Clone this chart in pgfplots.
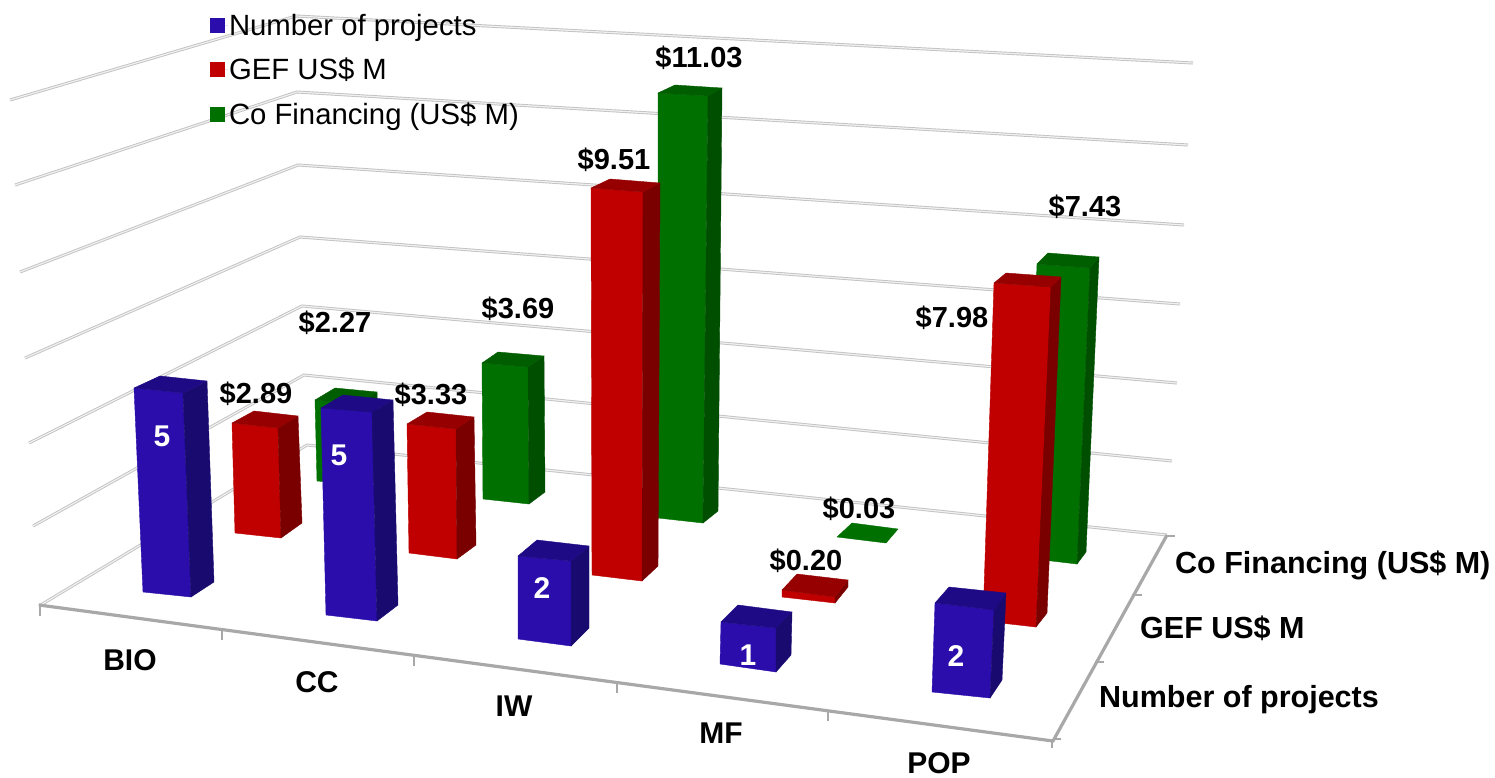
\documentclass[border=0pt]{standalone}
\usepackage{pgfplots}
\pgfplotsset{compat=1.18}
\usepackage{fontspec}
\setmainfont{Liberation Sans}
\definecolor{bF}{HTML}{2A0DAB}\definecolor{bS}{HTML}{190A70}\definecolor{bT}{HTML}{1F0A85}
\definecolor{rF}{HTML}{C00000}\definecolor{rS}{HTML}{7A0000}\definecolor{rT}{HTML}{960000}
\definecolor{gF}{HTML}{007000}\definecolor{gS}{HTML}{004F00}\definecolor{gT}{HTML}{005E00}
\definecolor{axg}{HTML}{A8A8A8}
% one visible face of a bar, corners in picture coordinates
\newcommand{\face}[2]{\addplot[forget plot,fill=#1,draw=#1,line width=0.4pt] coordinates {#2} --cycle;}
\newcommand{\prism}[4]{\face{#1F}{#2}\face{#1S}{#3}\face{#1T}{#4}}
\newcommand{\grid}[1]{\addplot[forget plot,draw=black!24,line width=3pt,line join=miter] coordinates {#1};
 \addplot[forget plot,draw=black!6,line width=1.2pt,line join=miter] coordinates {#1};}
\newcommand{\lab}[3]{\node[font=\fontsize{29}{32}\selectfont\bfseries,text=black,anchor=center,inner sep=0pt] at (axis cs:#1,#2) {#3};}
\newcommand{\clab}[3]{\node[font=\fontsize{30}{32}\selectfont\bfseries,text=black,anchor=center,inner sep=0pt] at (axis cs:#1,#2) {#3};}
\newcommand{\wlab}[3]{\node[font=\fontsize{30}{32}\selectfont\bfseries,text=white,anchor=center,inner sep=0pt] at (axis cs:#1,#2) {#3};}
\newcommand{\llab}[3]{\node[font=\fontsize{30.5}{32}\selectfont\bfseries,text=black,anchor=west,inner sep=0pt] at (axis cs:#1,#2) {#3};}
\begin{document}
\begin{tikzpicture}
\path[use as bounding box] (0,0) rectangle (1495pt,777pt);
\begin{axis}[
  at={(0,0)},anchor=south west,
  scale only axis,width=1495pt,height=777pt,
  xmin=0,xmax=1495,ymin=0,ymax=777,y dir=reverse,
  hide axis,clip=false,no markers,
  legend style={at={(axis cs:210,13)},anchor=north west,draw=none,fill=none,
    inner sep=0pt,outer sep=0pt,font=\fontsize{29.3}{32}\selectfont,
    row sep=19.5pt,nodes={inner sep=1pt,anchor=west}},
  legend cell align=left,
  legend image code/.code={\fill[#1] (0pt,-7.5pt) rectangle (15pt,7.5pt);\path (0pt,0pt) -- (18pt,0pt);},
]
\addlegendimage{fill=bF,draw=none}\addlegendentry{Number of projects}
\addlegendimage{fill=rF,draw=none}\addlegendentry{GEF US\$ M}
\addlegendimage{fill=gF,draw=none}\addlegendentry{Co Financing (US\$ M)}
% walls and floor grid
\grid{(10,100)(296,16)(1193,63)}
\grid{(15,185)(297,92)(1188,145)}
\grid{(20,272)(298,165)(1184,225)}
\grid{(25,358)(300,237)(1180,304)}
\grid{(29,443)(302,306)(1177,383)}
\grid{(33,526)(304,375)(1172,461)}
\grid{(39,606)(307,445)(1167,535)}
% axes
\addplot[forget plot,draw=axg,line width=3.2pt] coordinates {(39,605)(1053,741)(1167,535)};
\addplot[forget plot,draw=axg,line width=1.4pt] coordinates {(40,606)(40,616)};
\addplot[forget plot,draw=axg,line width=1.4pt] coordinates {(222,630)(222,640)};
\addplot[forget plot,draw=axg,line width=1.4pt] coordinates {(414,656)(414,666)};
\addplot[forget plot,draw=axg,line width=1.4pt] coordinates {(617,683)(617,693)};
\addplot[forget plot,draw=axg,line width=1.4pt] coordinates {(828,711)(828,721)};
\addplot[forget plot,draw=axg,line width=1.4pt] coordinates {(1052,741)(1052,748)};
\addplot[forget plot,draw=axg,line width=1.4pt] coordinates {(1053,739)(1061,739)};
\addplot[forget plot,draw=axg,line width=1.4pt] coordinates {(1095,662)(1104,662)};
\addplot[forget plot,draw=axg,line width=1.4pt] coordinates {(1132,595)(1142,595)};
\addplot[forget plot,draw=axg,line width=1.4pt] coordinates {(1167,536)(1175,536)};
% Co Financing row
\prism{g}{(315,400)(360,404)(363,485)(317,481)}{(360,404)(377,392)(380,475)(363,485)}{(315,400)(335,388)(377,392)(360,404)}
\prism{g}{(482,363)(528,367)(529,504)(483,499)}{(528,367)(544,356)(545,492)(529,504)}{(482,363)(498,352)(544,356)(528,367)}
\prism{g}{(658,93)(708,96)(703,523)(658,518)}{(708,96)(722,88)(718,511)(703,523)}{(658,93)(675,85)(722,88)(708,96)}
\face{gF}{(837,537)(886,543)(898,529)(852,523)}
\prism{g}{(1037,264)(1090,268)(1077,564)(1026,558)}{(1090,268)(1099,257)(1086,552)(1077,564)}{(1037,264)(1048,253)(1099,257)(1090,268)}
% GEF row
\prism{r}{(232,423)(278,428)(281,538)(235,533)}{(278,428)(298,416)(302,523)(281,538)}{(232,423)(254,411)(298,416)(278,428)}
\prism{r}{(407,424)(456,429)(457,559)(409,553)}{(456,429)(474,417)(476,545)(457,559)}{(407,424)(427,412)(474,417)(456,429)}
\prism{r}{(591,188)(643,192)(642,581)(592,575)}{(643,192)(660,183)(658,566)(642,581)}{(591,188)(610,179)(660,183)(643,192)}
\prism{r}{(782,590)(835,597)(835,603)(782,597)}{(835,597)(848,580)(848,587)(835,603)}{(782,590)(797,574)(848,580)(835,597)}
\prism{r}{(994,283)(1051,287)(1036,627)(983,621)}{(1051,287)(1061,277)(1047,613)(1036,627)}{(994,283)(1006,273)(1061,277)(1051,287)}
% Number of projects row
\prism{b}{(134,388)(183,393)(191,597)(143,592)}{(183,393)(207,381)(214,582)(191,597)}{(134,388)(160,376)(207,381)(183,393)}
\prism{b}{(321,408)(372,412)(377,621)(326,615)}{(372,412)(393,400)(398,605)(377,621)}{(321,408)(343,395)(393,400)(372,412)}
\prism{b}{(518,556)(571,561)(571,646)(518,639)}{(571,561)(589,546)(589,628)(571,646)}{(518,556)(537,540)(589,546)(571,561)}
\prism{b}{(721,622)(776,628)(776,672)(720,664)}{(776,628)(792,612)(791,655)(776,672)}{(721,622)(738,605)(792,612)(776,628)}
\prism{b}{(935,603)(994,610)(990,698)(932,692)}{(994,610)(1006,593)(1002,680)(990,698)}{(935,603)(949,587)(1006,593)(994,610)}
% value labels
\wlab{162}{436}{5}\wlab{339}{455}{5}\wlab{542}{588}{2}\wlab{748}{655}{1}\wlab{956}{656}{2}
\lab{256}{394}{\$2.89}\lab{431}{395}{\$3.33}\lab{614}{160}{\$9.51}\lab{806}{561}{\$0.20}\lab{952}{318}{\$7.98}
\lab{335}{323}{\$2.27}\lab{518}{309}{\$3.69}\lab{699}{58}{\$11.03}\lab{859}{509}{\$0.03}\lab{1085}{207}{\$7.43}
% category labels
\clab{130}{660}{BIO}\clab{317}{682}{CC}\clab{514}{706}{IW}\clab{721}{733}{MF}\clab{939}{763}{POP}
\llab{1175}{565}{Co Financing (US\$ M)}\llab{1140}{628}{GEF US\$ M}\llab{1099}{700}{Number of projects}
\end{axis}
\end{tikzpicture}
\end{document}
